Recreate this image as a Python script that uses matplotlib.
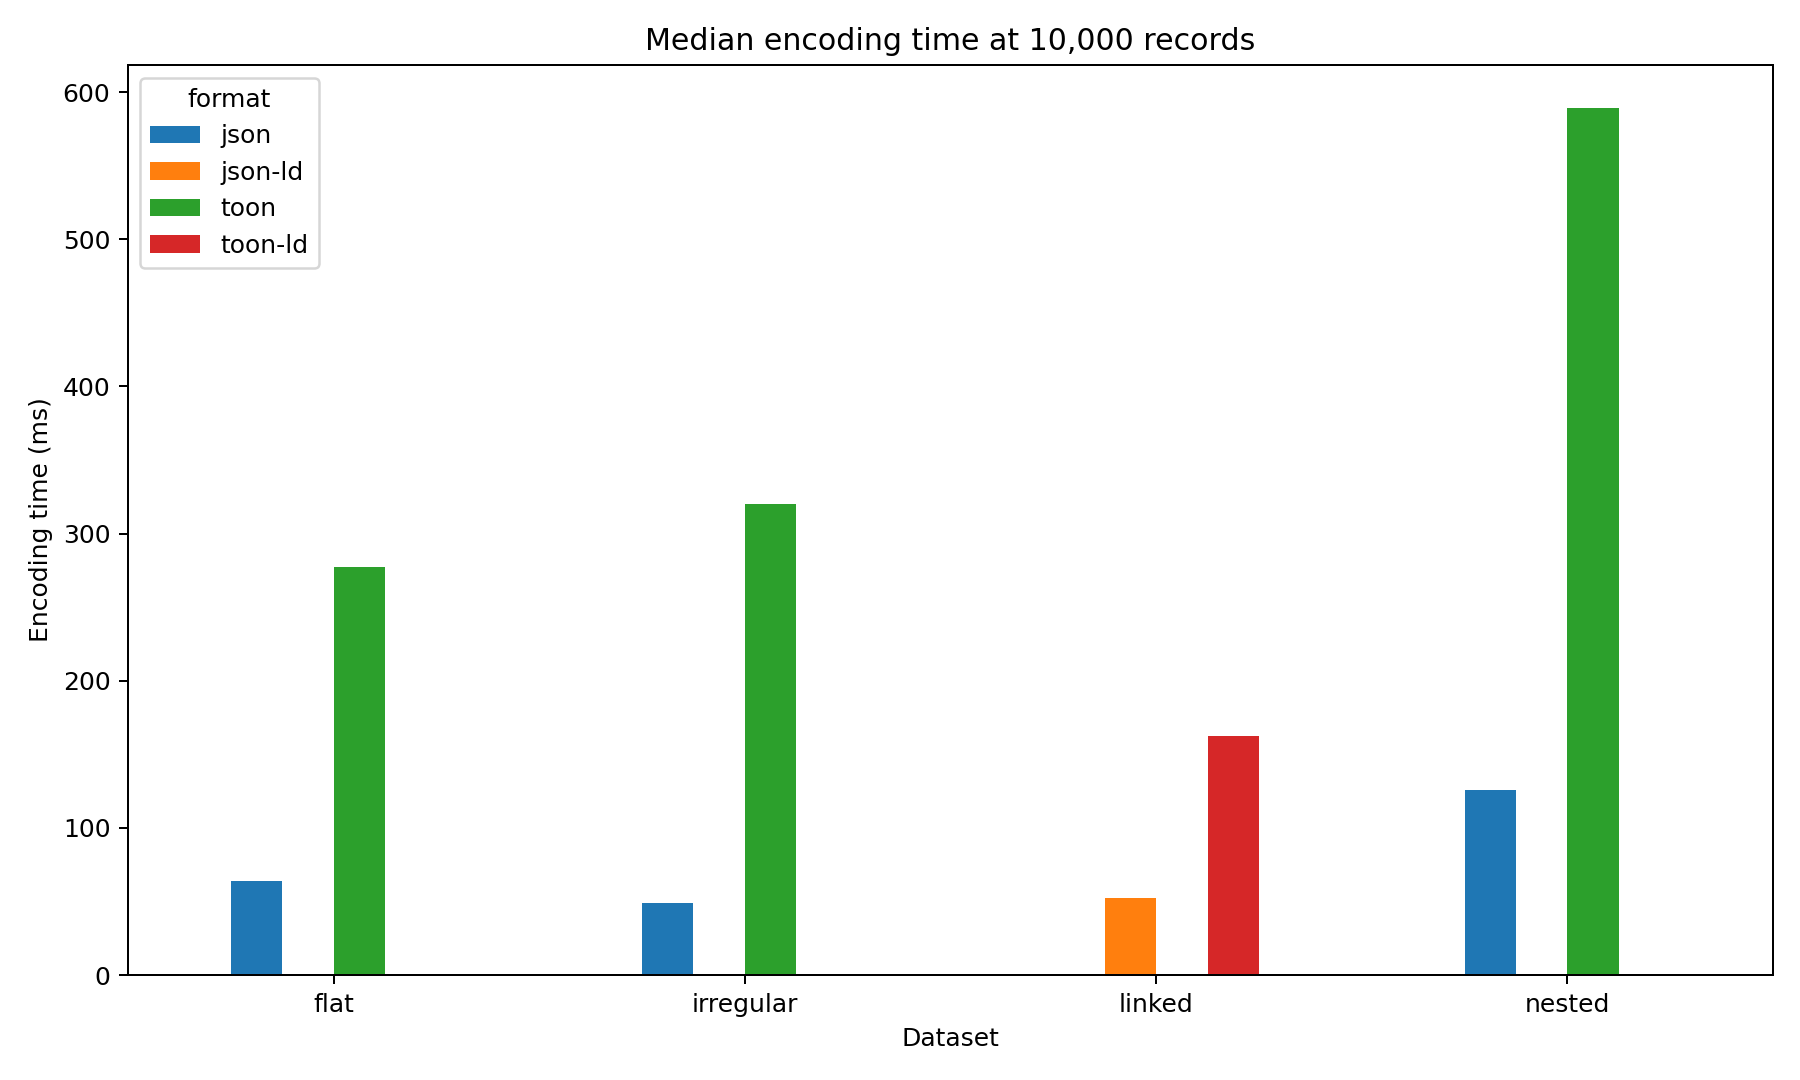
import numpy as np
import pandas as pd
import matplotlib
matplotlib.use("Agg")
import matplotlib.pyplot as plt

datasets = ["flat", "irregular", "linked", "nested"]
formats = ["json", "json-ld", "toon", "toon-ld"]

json_ms = [64, 49, np.nan, 126]
json_ld_ms = [np.nan, np.nan, 52.3, np.nan]
toon_ms = [277.5, 320, np.nan, 589]
toon_ld_ms = [np.nan, np.nan, 162.5, np.nan]

df = pd.DataFrame(
    {"json": json_ms, "json-ld": json_ld_ms, "toon": toon_ms, "toon-ld": toon_ld_ms},
    index=pd.Index(datasets, name="dataset"),
)
df.columns.name = "format"

fig, ax = plt.subplots(figsize=(10, 6))
df.plot(kind="bar", ax=ax, rot=0)
ax.set_title("Median encoding time at 10,000 records")
ax.set_xlabel("Dataset")
ax.set_ylabel("Encoding time (ms)")
ax.legend(title="format", loc="upper left")
fig.subplots_adjust(left=0.0711, right=0.985, top=0.9398, bottom=0.0972)
fig.savefig("out.png", dpi=180)
